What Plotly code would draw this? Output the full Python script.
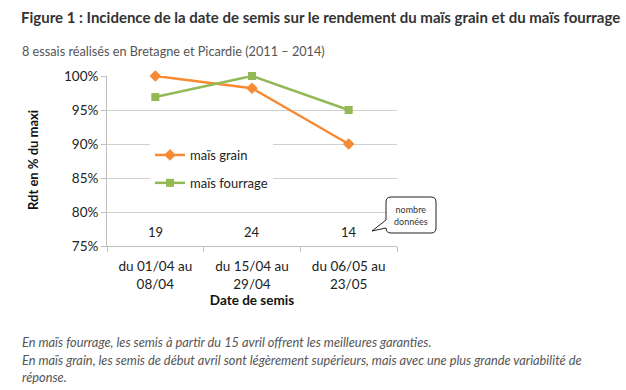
import plotly.graph_objects as go

categories = ["du 01/04 au<br>08/04", "du 15/04 au<br>29/04", "du 06/05 au<br>23/05"]
mais_grain = [100.0, 98.2, 90.0]
mais_fourrage = [96.9, 100.0, 95.0]
nb_donnees = [19, 24, 14]
y_ticks = [75, 80, 85, 90, 95, 100]
y_ticktext = [f"{v}%" for v in y_ticks]

ORANGE = "#F78A33"
GREEN = "#93B956"
FONT = "Lato"

# plot area in pixels
L, R, T, B = 107, 397, 76, 246
W, H = 626, 390

def px(x):
    return (x - L) / (R - L)

def py(y):
    return (B - y) / (B - T)

fig = go.Figure()
fig.add_trace(go.Scatter(x=categories, y=mais_grain, name="maïs grain", mode="lines+markers",
                         legendgroup="g", line=dict(color=ORANGE, width=2.5), cliponaxis=False,
                         marker=dict(symbol="diamond", size=9, color=ORANGE)))
fig.add_trace(go.Scatter(x=categories, y=mais_fourrage, name="maïs fourrage", mode="lines+markers",
                         legendgroup="f", line=dict(color=GREEN, width=2.5), cliponaxis=False,
                         marker=dict(symbol="square", size=8, color=GREEN)))

for c, n in zip(categories, nb_donnees):
    fig.add_annotation(x=c, y=77.0, xref="x", yref="y", text=str(n), showarrow=False,
                       font=dict(family=FONT, size=13, color="#222"))

# callout box
x0, x1, y0, y1, r = 386, 436, 197, 233, 5
tail = [(386, 220), (372, 231), (386, 228)]
pts = [
    f"M {px(x0 + r)},{py(y0)}",
    f"L {px(x1 - r)},{py(y0)}",
    f"Q {px(x1)},{py(y0)} {px(x1)},{py(y0 + r)}",
    f"L {px(x1)},{py(y1 - r)}",
    f"Q {px(x1)},{py(y1)} {px(x1 - r)},{py(y1)}",
    f"L {px(x0 + r)},{py(y1)}",
    f"Q {px(x0)},{py(y1)} {px(x0)},{py(y1 - r)}",
    f"L {px(tail[2][0])},{py(tail[2][1])}",
    f"L {px(tail[1][0])},{py(tail[1][1])}",
    f"L {px(tail[0][0])},{py(tail[0][1])}",
    f"L {px(x0)},{py(y0 + r)}",
    f"Q {px(x0)},{py(y0)} {px(x0 + r)},{py(y0)}",
    "Z",
]
fig.add_shape(type="path", path=" ".join(pts), xref="paper", yref="paper",
              line=dict(color="#222", width=1), fillcolor="white")
fig.add_annotation(x=px(411), y=py(215), xref="paper", yref="paper", xanchor="center", yanchor="middle",
                   text="nombre<br>données", showarrow=False,
                   font=dict(family=FONT, size=9, color="#333"))

# title, subtitle, captions
fig.add_annotation(x=px(19), y=py(17), xref="paper", yref="paper", xanchor="left", yanchor="middle",
                   text="<b>Figure 1 : Incidence de la date de semis sur le rendement du maïs grain et du maïs fourrage</b>",
                   showarrow=False, font=dict(family=FONT, size=15, color="#333"))
fig.add_annotation(x=px(20), y=py(51), xref="paper", yref="paper", xanchor="left", yanchor="middle",
                   text="8 essais réalisés en Bretagne et Picardie (2011 – 2014)",
                   showarrow=False, font=dict(family=FONT, size=12.7, color="#555"))
captions = [
    "En maïs fourrage, les semis à partir du 15 avril offrent les meilleures garanties.",
    "En maïs grain, les semis de début avril sont légèrement supérieurs, mais avec une plus grande variabilité de",
    "réponse.",
]
for i, t in enumerate(captions):
    fig.add_annotation(x=px(20), y=py(342 + 17.5 * i), xref="paper", yref="paper", xanchor="left",
                       yanchor="middle", text=f"<i>{t}</i>", showarrow=False,
                       font=dict(family=FONT, size=12.8, color="#555"))

fig.add_annotation(x=px(33), y=py(160), xref="paper", yref="paper", xanchor="center", yanchor="middle",
                   text="<b>Rdt en % du maxi</b>",
                   textangle=-90, showarrow=False, font=dict(family=FONT, size=13, color="#111"))

fig.update_layout(
    width=W, height=H,
    margin=dict(l=L, r=W - R, t=T, b=H - B),
    paper_bgcolor="white", plot_bgcolor="white",
    font=dict(family=FONT, size=13, color="#333"),
    showlegend=True,
    legend=dict(x=px(150), y=py(140), xanchor="left", yanchor="top", bgcolor="white",
                font=dict(family=FONT, size=13, color="#222"), traceorder="grouped",
                tracegroupgap=8, itemwidth=30),
    xaxis=dict(type="category", range=[-0.5, 2.5], tickson="boundaries", ticks="outside",
               ticklen=5, tickcolor="#bfbfbf", showline=True, linecolor="#bfbfbf",
               showgrid=False, tickfont=dict(family=FONT, size=13.5, color="#222"),
               ticklabelstandoff=8,
               title=dict(text="<b>Date de semis</b>", font=dict(family=FONT, size=13.5, color="#111"),
                          standoff=4)),
    yaxis=dict(range=[75, 100], tickvals=y_ticks, ticktext=y_ticktext, ticks="outside", ticklen=5,
               tickcolor="#bfbfbf", showline=True, linecolor="#bfbfbf", gridcolor="#d0d0d0",
               zeroline=False, tickfont=dict(family=FONT, size=13.5, color="#222")),
)

fig.write_html("out.html", post_script="document.body.style.margin='0';",
               config={"displayModeBar": False})
